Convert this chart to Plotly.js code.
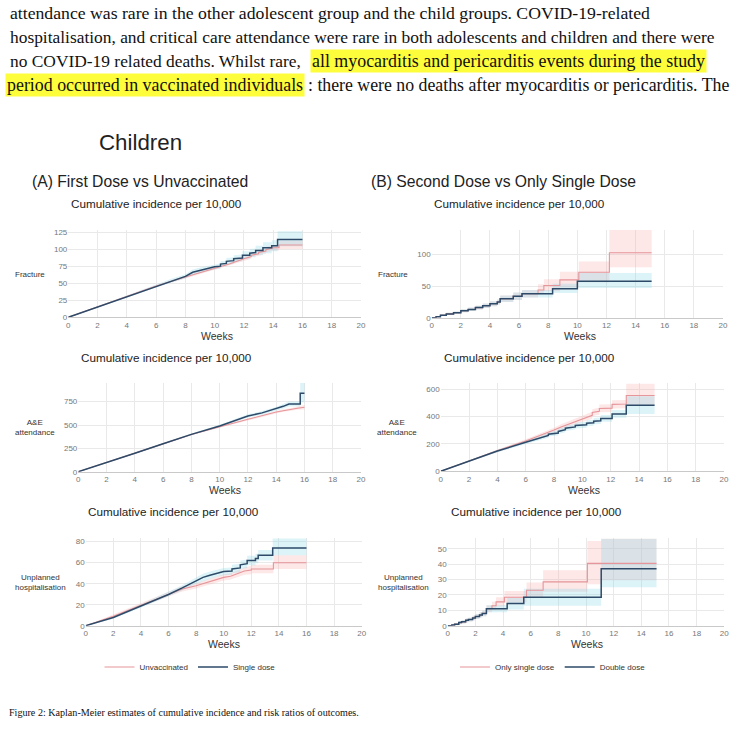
<!DOCTYPE html>
<html>
<head>
<meta charset="utf-8">
<script src="https://cdn.plot.ly/plotly-3.0.1.min.js"></script>
<style>html,body{margin:0;padding:0;background:#fff;}#chart{width:742px;height:734px;}</style>
</head>
<body>
<div id="chart"></div>
<script>
// ---------------- DATA ----------------
// Repeated week values mark the vertical part of a visible step.
// Panel 1: (A) Fracture
const t1r = [0,2,4,6,8,10,11,12,12.5,12.5,13,13,13.5,13.5,14,14,14.4,14.4,16];
const y1r = [0,15,31,46,59,72,78,86,89,91,93,95,97,99,101,102,102,106,106];
const lo1r = [0,14,30,45,57,70,76,83,86,88,90,91,93,95,97,98,98,100,100];
const hi1r = [0,16,32,47,61,74,80,89,92,94,96,99,101,103,105,106,106,112,112];
const t1b = [0,2,4,6,7,8,8.5,9,10,10.4,10.4,10.8,10.8,11.3,11.3,11.9,11.9,12.4,12.4,12.8,12.8,13.3,13.3,13.9,13.9,14.3,14.3,16];
const y1b = [0,15,31,46,53,60,66,69,74,75,78,79,82,83,86,87,91,91,94,95,98,98,102,102,105,105,114,114];
const lo1b = [0,14,29,44,50,57,62,65,70,71,74,75,77,78,81,82,85,85,88,88,91,91,94,94,97,97,104,104];
const hi1b = [0,16,33,48,56,63,70,73,78,79,82,83,87,88,91,92,97,97,100,101,105,105,110,110,113,113,126,126];

// Panel 2: (B) Fracture
const t2r = [0,0.3,0.6,1,1.5,2,2.5,3,3.5,4,4.5,4.7,5.6,6.2,7.3,7.7,8.8,10.1,12.2,15.1];
const y2r = [0,1.5,4,6,8,11,13,16,19,22,25,30,34,38,44,51,60,72,103,103];
const lo2r = [0,0.5,2.5,4.5,6,8.5,10.5,13,15.5,18,21,25,28,32,37,42,48,56,80,80];
const hi2r = [0,2.5,5.5,8,10,13.5,16,19,22.5,26,29,35,40,44,53,61,73,89,139,139];
const t2b = [0,0.3,0.6,1,1.5,2,2.5,3,3.5,4,4.5,4.7,5.6,6.2,8.3,10,15.1];
const y2b = [0,1.5,4,6,8,11,13,16,19,22,25,30,34,38,46,57.7,57.7];
const lo2b = [0,0.5,2.5,4.5,6,8.5,10.5,13,15.5,18,21,25,28,32,39,47,47];
const hi2b = [0,2.5,5.5,8,10,13.5,16,19,22.5,26,29,35,40,44,54,71,71];

// Panel 3: (A) A&E attendance
const t3r = [0,2,4,6,8,10,12,14,14.5,15,15.5,16];
const y3r = [0,97,197,298,398,482,561,640,655,665,680,690];
const lo3r = [0,94,193,293,391,473,550,627,641,650,664,665];
const hi3r = [0,100,201,303,405,491,572,653,669,680,696,715];
const t3b = [0,2,4,6,8,10,12,13,14,14.5,14.9,15.7,15.7,16];
const y3b = [0,97,198,300,400,490,597,630,672,700,725,725,840,840];
const lo3b = [0,94,193,293,391,478,580,611,650,676,698,698,745,745];
const hi3b = [0,100,203,307,409,502,614,649,694,724,752,752,950,950];

// Panel 4: (B) A&E attendance
const t4r = [0,2,4,6,7,8,8.5,9,9.5,10,10.5,10.7,10.7,11.2,11.2,12.1,12.1,13.1,13.1,15.1];
const y4r = [0,76,150,222,260,302,325,345,365,383,400,410,430,440,460,462,490,492,555,555];
const lo4r = [0,70,141,209,245,285,306,325,344,360,377,385,405,414,432,434,460,462,485,485];
const hi4r = [0,82,159,235,275,319,344,365,386,406,423,435,455,466,488,490,520,522,640,640];
const t4b = [0,2,4,6,7,7.6,7.6,8.3,8.3,8.8,8.8,9.5,9.5,10.3,10.3,10.8,10.8,11.3,11.3,12.1,12.1,13.1,13.1,15.1];
const y4b = [0,75,148,212,245,262,272,280,292,305,315,325,335,340,352,355,367,370,387,387,420,420,483,483];
const lo4b = [0,69,139,199,230,245,255,262,273,285,295,305,314,318,330,333,344,346,362,362,392,392,420,420];
const hi4b = [0,81,157,225,260,280,290,298,311,325,335,345,356,362,374,377,390,394,412,412,448,448,550,550];

// Panel 5: (A) Unplanned hospitalisation
const t5r = [0,2,4,6,7,8,9,10,10.5,11,11.5,12,12,13.6,13.6,16];
const y5r = [0,9,19.5,30,35,38,42,46,47,49.5,52,53,54,54,60,60];
const lo5r = [0,7.5,18,28,32.5,35.5,39,43,44,46,48.5,49,50,50,54,54];
const hi5r = [0,10.5,21,32,37.5,40.5,45,49,50,53,55.5,57,58,58,67,67];
const t5b = [0,2,4,6,7,8,8.5,9,9.5,10,10.6,10.6,11.2,11.2,11.7,11.7,12.3,12.3,12.5,12.5,13.55,13.55,16];
const y5b = [0,7.8,18.7,29.7,36,43,46,48,50,51.5,52,54,55,58,59,62,62,64,64,67,67,74,74];
const lo5b = [0,6.5,17,27.5,33.5,40,42.5,44.5,46.5,48,48.5,50,51,54,55,57.5,57.5,59.5,59.5,62,62,67,67];
const hi5b = [0,9.1,20.5,32,38.5,46,49.5,51.5,53.5,55,55.5,58,59,62,63,66.5,66.5,68.5,68.5,72,72,83,83];

// Panel 6: (B) Unplanned hospitalisation
const t6r = [0,0.3,0.5,0.8,1,1.3,1.5,1.8,2,2.3,2.5,2.8,3.2,3.5,4.1,5.7,6.9,10.1,11.1,15.1];
const y6r = [0,0.5,1,2,2.5,3.5,4,5,6,7,8,11,13,15.5,18.5,23,28.5,40.5,40.5,40.5];
const lo6r = [0,0,0.3,1,1.5,2.3,2.8,3.6,4.4,5.3,6.2,8.7,10.5,12.5,15,18.5,22,27,29.5,29.5];
const hi6r = [0,1,1.7,3,3.5,4.7,5.2,6.4,7.6,8.7,9.8,13.3,15.5,18.5,22.5,28,36,55,56.5,56.5];
const t6b = [0,0.3,0.5,0.8,1,1.3,1.5,1.8,2,2.3,2.5,2.8,4.3,5.5,11.1,15.1];
const y6b = [0,0.5,1,2,2.5,3.5,4,5,6,7,8,11,14.5,18.5,37,37];
const lo6b = [0,0,0.3,1,1.5,2.3,2.8,3.6,4.4,5.3,6.2,8.7,10.5,13,25,25];
const hi6b = [0,1,1.7,3,3.5,4.7,5.2,6.4,7.6,8.7,9.8,13.3,18,24,56.5,56.5];

// Axis settings (tick spacing / ranges)
const yTop = [128, 139, 950, 644, 83.5, 56.8];
const yDtick = [25, 50, 250, 200, 20, 10];
const lineShape = ["linear", "hv", "linear", "linear", "linear", "hv"];
const outcomeLabels = ["Fracture", "Fracture", "A&E<br>attendance", "A&E<br>attendance", "Unplanned<br>hospitalisation", "Unplanned<br>hospitalisation"];
const legendA = ["Unvaccinated", "Single dose"];
const legendB = ["Only single dose", "Double dose"];

// ---------------- LAYOUT HELPERS ----------------
const W = 742, H = 734;
const px = x => x / W;
const py = y => 1 - y / H;
const SANS = "Liberation Sans, Arial, sans-serif";
const SERIF = "Liberation Serif, Times New Roman, serif";
const RED = "#e6959a";
const BLUE = "#2d4a68";
const RED_FILL = "rgba(247,170,170,0.28)";
const BLUE_FILL = "rgba(140,215,232,0.30)";

// plot-area pixel boxes [x0, x1, yBottom, yTop]
const boxes = [
  [68.3, 361, 317.3, 230],
  [431.7, 723, 317.7, 230],
  [78.3, 361, 471.7, 383],
  [440.7, 724, 471.3, 383.3],
  [85.7, 361.7, 625.7, 538],
  [447.7, 724.3, 625.7, 538.3]
];

const panels = [
  {r:[t1r,y1r,lo1r,hi1r], b:[t1b,y1b,lo1b,hi1b]},
  {r:[t2r,y2r,lo2r,hi2r], b:[t2b,y2b,lo2b,hi2b]},
  {r:[t3r,y3r,lo3r,hi3r], b:[t3b,y3b,lo3b,hi3b]},
  {r:[t4r,y4r,lo4r,hi4r], b:[t4b,y4b,lo4b,hi4b]},
  {r:[t5r,y5r,lo5r,hi5r], b:[t5b,y5b,lo5b,hi5b]},
  {r:[t6r,y6r,lo6r,hi6r], b:[t6b,y6b,lo6b,hi6b]}
];

const traces = [];
const legFont = {size:8, family:SANS, color:"#333"};
const layout = {
  width: W, height: H,
  margin: {l:0, r:0, t:0, b:0, pad:0},
  paper_bgcolor: "#fff", plot_bgcolor: "#fff",
  showlegend: true,
  font: {family: SANS, color: "#333"},
  annotations: [],
  legend: {orientation:"h", x: px(190), y: py(667), xanchor:"center", yanchor:"middle",
           font:legFont, itemwidth:30, bgcolor:"rgba(0,0,0,0)", traceorder:"normal"},
  legend2: {orientation:"h", x: px(553), y: py(667), xanchor:"center", yanchor:"middle",
           font:legFont, itemwidth:30, bgcolor:"rgba(0,0,0,0)", traceorder:"normal"}
};

panels.forEach((p, i) => {
  const n = i + 1;
  const sfx = (n === 1 ? "" : String(n));
  const xa = "x" + sfx, ya = "y" + sfx;
  const bx = boxes[i];
  const shp = lineShape[i];
  layout["xaxis" + sfx] = {
    domain: [px(bx[0]), px(bx[1])], anchor: ya, range: [0, 20], dtick: 2, tick0: 0,
    showgrid: true, gridcolor: "#e9e9e9", gridwidth: 1, zeroline: false,
    showline: true, linecolor: "#c9c9c9", linewidth: 1, ticks: "",
    tickfont: {size: 8, color: "#777", family: SANS}, fixedrange: true
  };
  layout["yaxis" + sfx] = {
    domain: [py(bx[2]), py(bx[3])], anchor: xa, range: [0, yTop[i]], dtick: yDtick[i], tick0: 0,
    showgrid: true, gridcolor: "#e9e9e9", gridwidth: 1, zeroline: false,
    showline: false, ticks: "", tickfont: {size: 8, color: "#777", family: SANS}, fixedrange: true
  };
  const leg = (i === 4) ? "legend" : (i === 5 ? "legend2" : null);
  const names = (i % 2 === 0) ? legendA : legendB;
  // confidence bands
  [[p.r, RED_FILL], [p.b, BLUE_FILL]].forEach(([s, fc]) => {
    traces.push({x: s[0], y: s[2], xaxis: xa, yaxis: ya, type: "scatter", mode: "lines",
      line: {shape: shp, width: 0, color: fc}, showlegend: false, hoverinfo: "skip"});
    traces.push({x: s[0], y: s[3], xaxis: xa, yaxis: ya, type: "scatter", mode: "lines",
      line: {shape: shp, width: 0, color: fc}, fill: "tonexty", fillcolor: fc, showlegend: false, hoverinfo: "skip"});
  });
  // estimate lines
  const red = {x: p.r[0], y: p.r[1], xaxis: xa, yaxis: ya, type: "scatter", mode: "lines",
    line: {shape: shp, width: 1.1, color: RED}, name: names[0], showlegend: !!leg};
  const blue = {x: p.b[0], y: p.b[1], xaxis: xa, yaxis: ya, type: "scatter", mode: "lines",
    line: {shape: shp, width: 1.5, color: BLUE}, name: names[1], showlegend: !!leg};
  if (leg) { red.legend = leg; blue.legend = leg; }
  traces.push(red, blue);
});

// ---------------- TEXT ----------------
const A = layout.annotations;
function txt(text, x, y, font, opts) {
  A.push(Object.assign({text: text, x: px(x), y: py(y), xref: "paper", yref: "paper",
    showarrow: false, xanchor: "center", yanchor: "middle", font: font}, opts || {}));
}
const sans = (s, c) => ({size: s, family: SANS, color: c || "#222"});
const serif = (s) => ({size: s, family: SERIF, color: "#111"});
const HL = "#fdfd3c";

// Paragraph above the figure
txt("attendance was rare in the other adolescent group and the child groups. COVID-19-related", 8, 13, serif(17.7), {xanchor: "left"});
txt("hospitalisation, and critical care attendance were rare in both adolescents and children and there were", 8, 37, serif(17.4), {xanchor: "left"});
txt("no COVID-19 related deaths. Whilst rare,", 8, 61, serif(17.4), {xanchor: "left"});
txt("all myocarditis and pericarditis events during the study", 310, 61, serif(17.9), {xanchor: "left", bgcolor: HL, borderpad: 1});
txt("period occurred in vaccinated individuals", 5, 85, serif(17.9), {xanchor: "left", bgcolor: HL, borderpad: 1});
txt(": there were no deaths after myocarditis or pericarditis. The", 306, 85, serif(17.8), {xanchor: "left"});

// Figure titles
txt("Children", 140.5, 143, sans(22.3));
txt("(A) First Dose vs Unvaccinated", 140, 181, sans(15.7));
txt("(B) Second Dose vs Only Single Dose", 503, 181, sans(15.7));

// Panel sub titles
const subPos = [[156.5, 203], [519, 203], [166, 357], [529, 357], [173, 511], [536, 511]];
subPos.forEach(p => txt("Cumulative incidence per 10,000", p[0], p[1], sans(11.7)));

// x-axis titles
const weeksPos = [[216.7, 336], [580, 336], [225, 490], [584, 490], [224, 644], [587, 644]];
weeksPos.forEach(p => txt("Weeks", p[0], p[1], sans(10.5, "#333")));

// Outcome labels (row titles)
const labPos = [[30, 274], [393, 274], [35, 428], [397, 428], [40, 582], [403, 582]];
labPos.forEach((p, i) => txt(outcomeLabels[i], p[0], p[1], sans(8, "#333")));

// Caption
txt("Figure 2: Kaplan-Meier estimates of cumulative incidence and risk ratios of outcomes.", 7, 712, serif(10.1), {xanchor: "left"});

Plotly.newPlot("chart", traces, layout, {displayModeBar: false, staticPlot: true});
</script>
</body>
</html>
